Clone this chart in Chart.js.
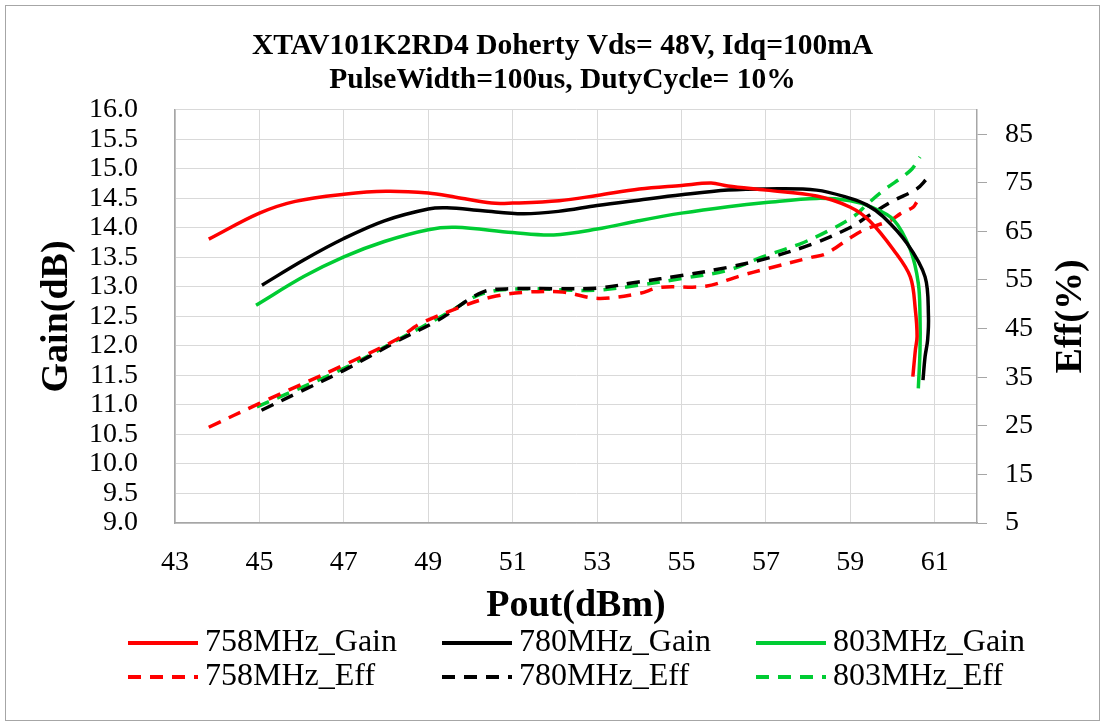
<!DOCTYPE html>
<html>
<head>
<meta charset="utf-8">
<script src="https://cdn.jsdelivr.net/npm/chart.js@4.4.1/dist/chart.umd.min.js"></script>
<style>
    body { margin: 0; background: #fff; }
    #wrap { position: relative; width: 1105px; height: 726px; }
    #frame { position: absolute; left: 5px; top: 5px; width: 1093px; height: 714px; border: 1px solid #a6a6a6; pointer-events: none; }
</style>
</head>
<body>
<div id="wrap"><canvas id="gainChart"></canvas><div id="frame"></div></div>
<script>
const titleLines = ['XTAV101K2RD4 Doherty Vds= 48V, Idq=100mA', 'PulseWidth=100us, DutyCycle= 10%'];
const xTicks = [43, 45, 47, 49, 51, 53, 55, 57, 59, 61];
const effTicks = [5, 15, 25, 35, 45, 55, 65, 75, 85];

// 758 MHz
const pout758Gain = [43.8, 45.0, 45.85, 47.0, 48.0, 49.0, 49.65, 50.5, 51.0, 52.1, 53.0, 54.0, 55.0, 55.7, 56.1, 57.0, 58.2, 59.0, 59.47, 60.02, 60.42, 60.54, 60.58, 60.54, 60.48];
const gain758 = [13.81, 14.25, 14.45, 14.57, 14.62, 14.59, 14.52, 14.42, 14.42, 14.46, 14.55, 14.66, 14.72, 14.76, 14.71, 14.64, 14.54, 14.35, 14.11, 13.63, 13.17, 12.61, 12.16, 11.93, 11.48];
const pout758Eff = [43.8, 45.0, 47.0, 48.28, 48.81, 49.76, 50.5, 51.34, 52.19, 53.03, 53.98, 54.51, 55.57, 56.41, 57.01, 58.1, 58.42, 59.02, 59.35, 59.94, 60.18, 60.49, 60.57];
const eff758 = [24.7, 29.6, 37.5, 42.9, 46.0, 49.4, 51.5, 52.5, 52.5, 51.2, 52.2, 53.5, 53.7, 55.9, 57.3, 59.7, 60.4, 63.8, 65.4, 67.2, 68.6, 70.0, 71.0];

// 780 MHz
const pout780Gain = [45.06, 46.06, 47.0, 47.96, 49.0, 49.44, 50.29, 51.24, 52.08, 53.0, 53.98, 55.0, 56.1, 57.0, 58.2, 59.0, 59.39, 59.78, 60.34, 60.77, 60.85, 60.83, 60.77, 60.72];
const gain780 = [13.03, 13.46, 13.82, 14.12, 14.32, 14.34, 14.29, 14.24, 14.28, 14.38, 14.47, 14.56, 14.64, 14.66, 14.64, 14.50, 14.39, 14.19, 13.74, 13.17, 12.50, 12.10, 11.82, 11.42];
const pout780Eff = [45.05, 45.96, 47.0, 48.28, 49.23, 50.29, 51.03, 52.08, 53.0, 53.98, 55.0, 56.1, 57.0, 58.1, 59.02, 59.43, 60.02, 60.57, 60.81];
const eff780 = [28.2, 32.0, 36.4, 42.5, 46.7, 52.5, 53.2, 53.2, 53.3, 54.6, 55.9, 57.6, 59.4, 62.4, 65.9, 68.2, 71.3, 73.7, 75.8];

// 803 MHz
const pout803Gain = [44.92, 46.06, 47.0, 47.96, 49.0, 49.65, 51.0, 51.97, 53.0, 53.98, 55.0, 56.1, 57.0, 58.2, 59.0, 59.47, 60.02, 60.42, 60.61, 60.65, 60.65, 60.61];
const gain803 = [12.69, 13.18, 13.51, 13.77, 13.97, 14.01, 13.92, 13.88, 13.98, 14.12, 14.25, 14.36, 14.43, 14.50, 14.46, 14.36, 14.14, 13.63, 13.06, 12.50, 11.93, 11.28];
const pout803Eff = [44.94, 47.0, 48.28, 49.44, 50.29, 51.34, 52.4, 53.0, 53.98, 55.0, 56.1, 56.9, 57.8, 58.5, 59.1, 59.4, 59.78, 60.42, 60.65];
const eff803 = [28.9, 36.8, 42.7, 48.1, 52.2, 53.2, 52.9, 52.9, 53.9, 55.3, 57.0, 59.7, 62.4, 65.2, 68.2, 70.6, 73.4, 77.5, 80.3];

const serif = '"Liberation Serif", "Times New Roman", serif';
const gridColor = '#d9d9d9';
const axisColor = '#a6a6a6';

function makeSeries(label, xs, ys, color, axis, dashed) {
    return {
        label: label,
        data: xs.map((x, i) => ({ x: x, y: ys[i] })),
        borderColor: color,
        backgroundColor: color,
        borderWidth: 3.5,
        borderDash: dashed ? [13, 9] : [],
        pointRadius: 0,
        tension: 0.35,
        fill: false,
        yAxisID: axis
    };
}

// legend in 3 columns x 2 rows, drawn under the x axis title
const bottomLegend = {
    id: 'bottomLegend',
    afterDraw(chart) {
        const ctx = chart.ctx;
        const cols = [128, 442, 756];
        const rows = [643, 677];
        ctx.save();
        ctx.font = '32px ' + serif;
        ctx.textBaseline = 'middle';
        ctx.fillStyle = '#000';
        chart.data.datasets.forEach((ds, i) => {
            const x = cols[i % 3];
            const y = rows[Math.floor(i / 3)];
            ctx.strokeStyle = ds.borderColor;
            ctx.lineWidth = 4;
            ctx.setLineDash(ds.borderDash);
            ctx.beginPath();
            ctx.moveTo(x, y);
            ctx.lineTo(x + 70, y);
            ctx.stroke();
            ctx.setLineDash([]);
            ctx.fillText(ds.label, x + 77, y);
        });
        ctx.restore();
    }
};

// right axis title reads bottom to top like the left one
const effTitle = {
    id: 'effTitle',
    afterDraw(chart) {
        const ctx = chart.ctx;
        const area = chart.chartArea;
        ctx.save();
        ctx.translate(1071, (area.top + area.bottom) / 2);
        ctx.rotate(-Math.PI / 2);
        ctx.font = 'bold 38px ' + serif;
        ctx.textAlign = 'center';
        ctx.textBaseline = 'middle';
        ctx.fillStyle = '#000';
        ctx.fillText('Eff(%)', 0, 0);
        ctx.restore();
    }
};

new Chart(document.getElementById('gainChart'), {
    type: 'line',
    data: {
        datasets: [
            makeSeries('758MHz_Gain', pout758Gain, gain758, '#ff0000', 'y', false),
            makeSeries('780MHz_Gain', pout780Gain, gain780, '#000000', 'y', false),
            makeSeries('803MHz_Gain', pout803Gain, gain803, '#00cc33', 'y', false),
            makeSeries('758MHz_Eff', pout758Eff, eff758, '#ff0000', 'y1', true),
            makeSeries('780MHz_Eff', pout780Eff, eff780, '#000000', 'y1', true),
            makeSeries('803MHz_Eff', pout803Eff, eff803, '#00cc33', 'y1', true)
        ]
    },
    options: {
        responsive: true,
        maintainAspectRatio: false,
        animation: false,
        events: [],
        layout: { padding: { left: 20, right: 0, top: 0, bottom: 94 } },
        plugins: {
            legend: { display: false },
            tooltip: { enabled: false },
            title: {
                display: true,
                text: titleLines,
                color: '#000',
                font: { family: serif, size: 29.5, weight: 'bold', lineHeight: 1.15 },
                padding: { top: 29, bottom: 13 }
            }
        },
        scales: {
            x: {
                type: 'linear',
                min: 43,
                max: 62,
                afterBuildTicks: s => { s.ticks = xTicks.map(v => ({ value: v })); },
                afterFit: s => { s.height = 109; },
                grid: { color: gridColor, drawTicks: false },
                border: { color: axisColor, width: 1.5 },
                ticks: { color: '#000', font: { family: serif, size: 28 }, padding: 23, autoSkip: false, maxRotation: 0 },
                title: { display: true, text: 'Pout(dBm)', color: '#000', font: { family: serif, size: 38, weight: 'bold' }, padding: { top: 0, bottom: 3 } }
            },
            y: {
                position: 'left',
                min: 9,
                max: 16,
                afterFit: s => { s.width = 155; },
                grid: { color: gridColor, drawTicks: false },
                border: { color: axisColor, width: 1.5 },
                ticks: { stepSize: 0.5, autoSkip: false, color: '#000', font: { family: serif, size: 28 }, padding: 37, callback: v => v.toFixed(1) },
                title: { display: true, text: 'Gain(dB)', color: '#000', font: { family: serif, size: 38, weight: 'bold' }, padding: { top: 14, bottom: 0 } }
            },
            y1: {
                position: 'right',
                min: 5,
                max: 90,
                afterBuildTicks: s => { s.ticks = effTicks.map(v => ({ value: v })); },
                afterFit: s => { s.width = 128; },
                grid: { drawOnChartArea: false, drawTicks: true, tickLength: 10, color: axisColor },
                border: { color: axisColor, width: 1.5 },
                ticks: { color: '#000', font: { family: serif, size: 28 }, padding: 18 }
            }
        }
    },
    plugins: [bottomLegend, effTitle]
});
</script>
</body>
</html>
